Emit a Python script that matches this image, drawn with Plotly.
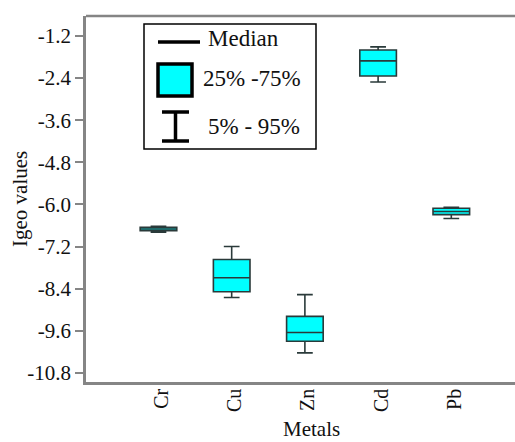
import plotly.graph_objects as go

# ---- data ----
metals = ["Cr", "Cu", "Zn", "Cd", "Pb"]
q1 = [-6.75, -8.49, -9.90, -2.34, -6.29]
median = [-6.70, -8.09, -9.65, -1.91, -6.20]
q3 = [-6.65, -7.57, -9.19, -1.60, -6.11]
p5 = [-6.79, -8.65, -10.23, -2.51, -6.40]
p95 = [-6.62, -7.20, -8.57, -1.51, -6.08]

y_ticks = [-1.2, -2.4, -3.6, -4.8, -6.0, -7.2, -8.4, -9.6, -10.8]
y_tick_labels = ["-1.2", "-2.4", "-3.6", "-4.8", "-6.0", "-7.2", "-8.4", "-9.6", "-10.8"]

legend_labels = ["Median", "25% -75%", "5% - 95%"]

W, H = 515, 442
ML, MT, MB, MR = 86, 16, 60, 0
PW, PH = W - ML - MR, H - MT - MB

FONT = "Liberation Serif"

fig = go.Figure()
fig.add_trace(go.Box(
    x=metals, q1=q1, median=median, q3=q3,
    lowerfence=p5, upperfence=p95,
    fillcolor="#00FFFF",
    line=dict(color="#2a3a3a", width=1.6),
    whiskerwidth=0.43, width=0.5,
    boxpoints=False, showlegend=False, hoverinfo="skip",
))

def px(X):
    return (X - ML) / PW

def py(Y):
    return (H - MB - Y) / PH

shapes = []
# top border line
shapes.append(dict(type="line", xref="paper", yref="paper", x0=0, x1=1, y0=1, y1=1,
                   line=dict(color="#858585", width=2.5)))
# legend box
shapes.append(dict(type="rect", xref="paper", yref="paper",
                   x0=px(144), x1=px(316), y0=py(149), y1=py(24),
                   line=dict(color="black", width=1.5), fillcolor="white"))
# median sample
shapes.append(dict(type="line", xref="paper", yref="paper",
                   x0=px(158), x1=px(200), y0=py(42), y1=py(42),
                   line=dict(color="black", width=3.5)))
# box sample
shapes.append(dict(type="rect", xref="paper", yref="paper",
                   x0=px(158), x1=px(192), y0=py(96), y1=py(64),
                   line=dict(color="black", width=3.5), fillcolor="#00FFFF"))
# whisker sample (I-beam)
for yy in (112, 141):
    shapes.append(dict(type="line", xref="paper", yref="paper",
                       x0=px(162), x1=px(189), y0=py(yy), y1=py(yy),
                       line=dict(color="black", width=3.5)))
shapes.append(dict(type="line", xref="paper", yref="paper",
                   x0=px(175.5), x1=px(175.5), y0=py(112), y1=py(141),
                   line=dict(color="black", width=3.5)))

annotations = []
for lab, X, Y in zip(legend_labels, [206, 201, 206], [39, 79, 126]):
    annotations.append(dict(text=lab, xref="paper", yref="paper", x=px(X), y=py(Y),
                            xanchor="left", yanchor="middle", showarrow=False,
                            font=dict(family=FONT, size=23, color="#111")))
annotations.append(dict(text="Metals", xref="paper", yref="paper", x=px(311), y=py(429),
                        xanchor="center", yanchor="middle", showarrow=False,
                        font=dict(family=FONT, size=21, color="#111")))
annotations.append(dict(text="Igeo values", xref="paper", yref="paper", x=px(20), y=0.5,
                        xanchor="center", yanchor="middle", showarrow=False, textangle=-90,
                        font=dict(family=FONT, size=21, color="#111")))

fig.update_layout(
    width=W, height=H,
    margin=dict(l=ML, r=MR, t=MT, b=MB),
    paper_bgcolor="white", plot_bgcolor="white",
    shapes=shapes, annotations=annotations,
    font=dict(family=FONT, color="#111"),
    xaxis=dict(
        type="category", range=[-0.99, 4.87],
        showline=True, linecolor="#858585", linewidth=2.5,
        showgrid=False, zeroline=False, ticks="",
        tickangle=-90, tickfont=dict(family=FONT, size=20, color="#111"),
        ticklabelstandoff=-4, ticklabelshift=3,
    ),
    yaxis=dict(
        range=[-11.06, -0.63],
        tickmode="array", tickvals=y_ticks, ticktext=y_tick_labels,
        showline=True, linecolor="#858585", linewidth=2.5,
        showgrid=False, zeroline=False,
        ticks="outside", ticklen=8, tickwidth=2, tickcolor="#858585",
        tickfont=dict(family=FONT, size=21, color="#111"),
    ),
)

fig.write_html("out.html", config={"displayModeBar": False},
               post_script="document.body.style.margin='0';document.body.style.overflow='hidden';")
